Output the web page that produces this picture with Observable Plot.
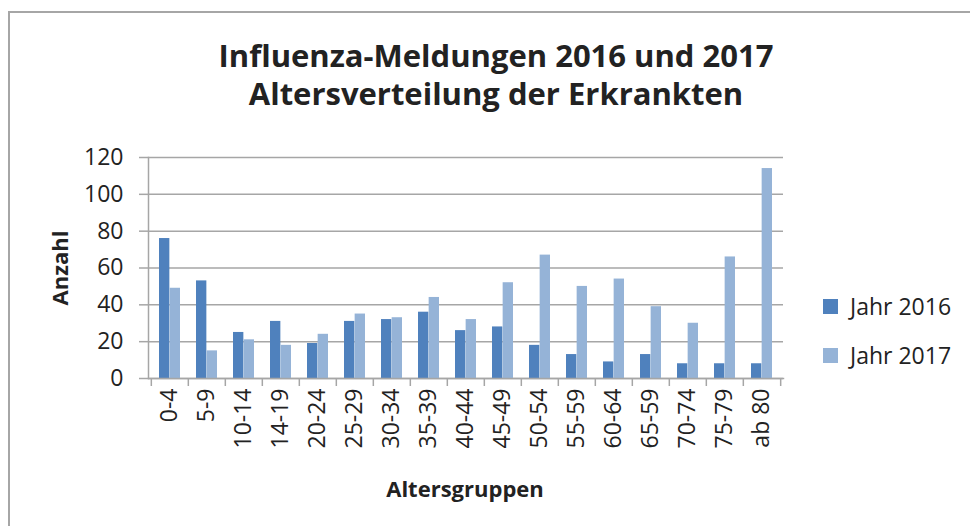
<!DOCTYPE html>
<html><head><meta charset="utf-8">
<script src="https://cdn.jsdelivr.net/npm/d3@7"></script>
<script src="https://cdn.jsdelivr.net/npm/@observablehq/plot@0.6"></script>
<style>
body{margin:0;background:#fff;font-family:"Open Sans",sans-serif;color:#222}
#wrap{position:relative;width:970px;height:526px;overflow:hidden;background:#fff}
#border{position:absolute;left:8px;top:11px;width:1100px;height:700px;border:2px solid #a6a6a6;box-sizing:border-box}
#chart{position:absolute;left:0;top:0}
#title{position:absolute;left:0;width:992px;top:36px;text-align:center;font-weight:700;font-size:31px;line-height:38px;white-space:nowrap}
#ylab{position:absolute;left:59px;top:268px;transform:translate(-50%,-50%) rotate(-90deg);font-weight:700;font-size:22px;white-space:nowrap}
#xlab{position:absolute;left:465px;top:488px;transform:translate(-50%,-50%);font-weight:700;font-size:22px;white-space:nowrap}
.leg{position:absolute;left:823px;display:flex;align-items:center;font-size:23px;white-space:nowrap}
.sw{width:15px;height:15px;margin-right:12px}
</style></head>
<body>
<div id="wrap">
  <div id="border"></div>
  <div id="chart"></div>
  <div id="title">Influenza-Meldungen 2016 und 2017<br>Altersverteilung der Erkrankten</div>
  <div id="ylab">Anzahl</div>
  <div id="xlab">Altersgruppen</div>
  <div id="legend"></div>
</div>
<script>
const groups = ["0-4","5-9","10-14","14-19","20-24","25-29","30-34","35-39","40-44","45-49","50-54","55-59","60-64","65-59","70-74","75-79","ab 80"];
const values2016 = [76,53,25,31,19,31,32,36,26,28,18,13,9,13,8,8,8];
const values2017 = [49,15,21,18,24,35,33,44,32,52,67,50,54,39,30,66,114];
const yTicks = [0,20,40,60,80,100,120];
const seriesNames = ["Jahr 2016","Jahr 2017"];
const seriesColors = ["#4f81bd","#95b3d7"];

const rows = groups.map((g,i)=>({group:g, v2016:values2016[i], v2017:values2017[i]}));

const W = 970, H = 526, mL = 148, mR = 187, mT = 157, mB = 148;
const step = (W - mL - mR) / groups.length;
const pad = 0.43;
const half = step * (1 - pad) / 2;
const grey = "#a6a6a6";

const chart = Plot.plot({
  width: W, height: H,
  marginLeft: mL, marginRight: mR, marginTop: mT, marginBottom: mB,
  style: {fontFamily: "Open Sans, sans-serif", fontSize: "23px", color: "#222", background: "transparent", overflow: "visible"},
  x: {domain: groups, paddingInner: pad, paddingOuter: pad/2},
  y: {domain: [0,120]},
  marks: [
    Plot.gridY(yTicks, {stroke: grey, strokeOpacity: 1, strokeWidth: 1.5}),
    Plot.axisY({ticks: yTicks, tickSize: 9, tickPadding: 16, stroke: grey, strokeWidth: 1.5, fontSize: 23, label: null, tickFormat: d => d}),
    Plot.barY(rows, {x: "group", y: "v2016", fill: seriesColors[0], insetRight: half}),
    Plot.barY(rows, {x: "group", y: "v2017", fill: seriesColors[1], insetLeft: half}),
    Plot.frame({anchor: "left", stroke: grey, strokeWidth: 1.5}),
    Plot.frame({anchor: "bottom", stroke: grey, strokeWidth: 1.5}),
    Plot.axisX({tickSize: 8, dx: -step/2, stroke: grey, strokeWidth: 1.5, tickFormat: () => "", label: null}),
    Plot.axisX({ticks: [groups[groups.length-1]], tickSize: 8, dx: step/2, stroke: grey, strokeWidth: 1.5, tickFormat: () => "", label: null}),
    Plot.axisX({tickSize: 0, tickRotate: -90, tickPadding: 10, fontSize: 23, label: null})
  ]
});
document.getElementById("chart").appendChild(chart);

const legend = document.getElementById("legend");
const legTops = [298, 347];
seriesNames.forEach((n,i)=>{
  const d = document.createElement("div");
  d.className = "leg";
  d.style.top = (legTops[i] - 8) + "px";
  d.innerHTML = `<div class="sw" style="background:${seriesColors[i]}"></div><span>${n}</span>`;
  legend.appendChild(d);
});
</script>
</body></html>
